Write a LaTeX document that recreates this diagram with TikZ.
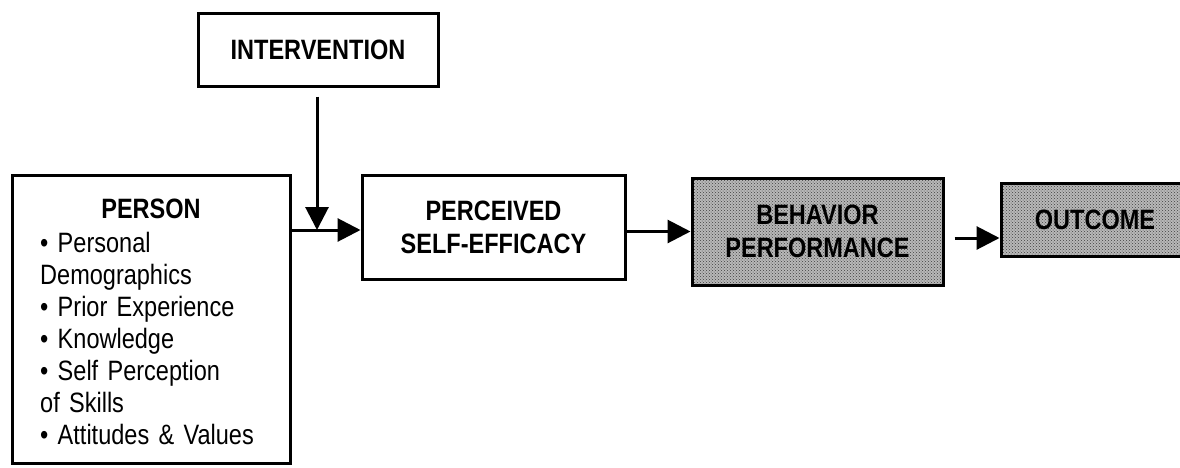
\documentclass[tikz,border=0pt]{standalone}
\usepackage{fontspec}
\setmainfont[FakeStretch=0.84]{Liberation Sans}
\usetikzlibrary{arrows.meta,patterns}
\newcommand\tightsp{\spaceskip=4.5pt plus 1pt minus 1pt\relax}
\begin{document}
\begin{tikzpicture}[x=1pt,y=-1pt,
  every node/.style={font=\fontsize{28}{32}\selectfont\tightsp},
  box/.style={draw=black,line width=3pt,inner sep=0pt,fill=white},
  shaded/.style={draw=black,line width=3pt,inner sep=0pt,
    preaction={fill=black!28},pattern=crosshatch dots,pattern color=black!75},
  arr/.style={line width=3pt,-{Triangle[length=23pt,width=23pt]}},
  hdr/.style={font=\fontsize{28}{33}\selectfont\bfseries,align=center}]
\useasboundingbox (0,0) rectangle (1180,467);
% boxes
\node[box,minimum width=240pt,minimum height=73pt,hdr] (interv) at (318,49.5) {INTERVENTION};
\node[box,minimum width=278pt,minimum height=288pt] (person) at (151,319) {};
\node[anchor=base,inner sep=0pt,font=\fontsize{28}{32}\selectfont\bfseries] (ptitle) at (151,218) {PERSON};
\node[anchor=base west,inner sep=0pt,text width=245pt,align=left] (plist) at (40,252)
  {• Personal\\Demographics\\• Prior Experience\\• Knowledge\\• Self Perception\\of Skills\\• Attitudes \& Values};
\node[box,minimum width=263pt,minimum height=104pt,hdr] (perceived) at (493.5,227) {PERCEIVED\\SELF-EFFICACY};
\node[shaded,minimum width=251pt,minimum height=107pt,hdr] (behavior) at (817.5,231.5) {BEHAVIOR\\PERFORMANCE};
\node[shaded,minimum width=188pt,minimum height=73pt,hdr] (outcome) at (1095,219.5) {OUTCOME};
% connectors
\coordinate (j) at (317,230);
\draw[arr] ([yshift=-9pt]interv.south -| j) -- (j);
\draw[arr] (person.east |- j) -- (perceived.west |- j);
\draw[arr] (perceived.east |- behavior.west) -- (behavior.west);
\coordinate (o1) at ([yshift=-18.5pt]outcome.west);
\draw[arr] ([xshift=10pt]behavior.east |- o1) -- (o1);
\end{tikzpicture}
\end{document}
